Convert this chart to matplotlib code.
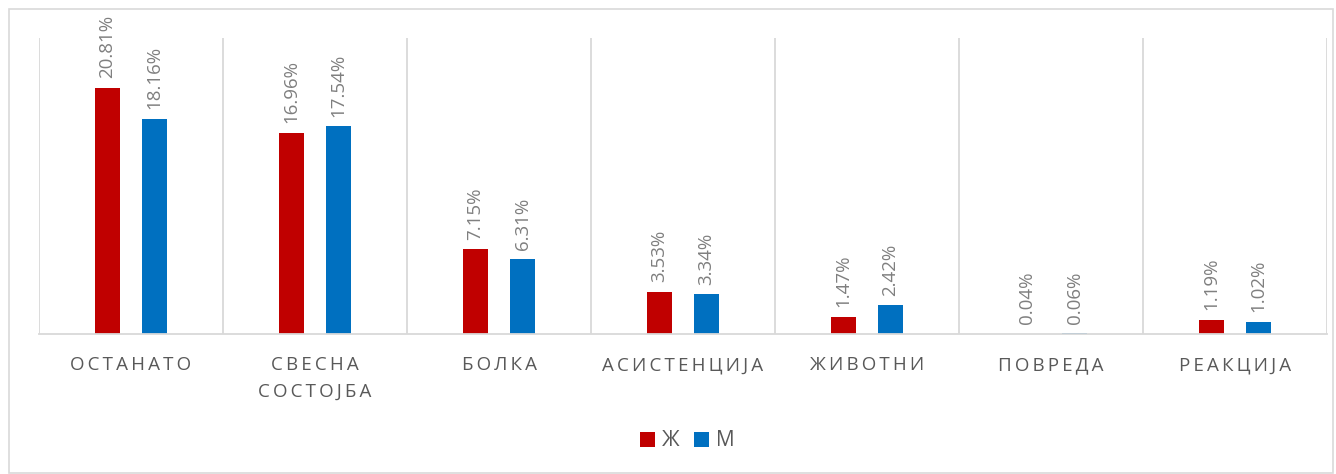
import numpy as np
import matplotlib.pyplot as plt
from matplotlib.patches import Rectangle

plt.rcParams['font.family'] = ['Open Sans', 'DejaVu Sans']

categories = ['ОСТАНАТО', 'СВЕСНА\nСОСТОЈБА', 'БОЛКА', 'АСИСТЕНЦИЈА', 'ЖИВОТНИ', 'ПОВРЕДА', 'РЕАКЦИЈА']
female = [20.81, 16.96, 7.15, 3.53, 1.47, 0.04, 1.19]
male = [18.16, 17.54, 6.31, 3.34, 2.42, 0.06, 1.02]
series_names = ['Ж', 'М']

red = '#C00000'
blue = '#0070C0'
grid = '#D9D9D9'
txt = '#595959'


def spaced(s):
    # wide letter spacing like the original
    return '\n'.join('\u2009'.join(list(line)) for line in s.split('\n'))


fig = plt.figure(figsize=(13.36, 4.74), dpi=100)
fig.patches.append(Rectangle((9 / 1336, 0.002), 1324 / 1336, 1 - 9 / 474 - 0.002,
                             transform=fig.transFigure, fill=False,
                             edgecolor=grid, linewidth=1.2))

ax = fig.add_axes([39 / 1336, 140 / 474, 1288 / 1336, 296 / 474])
x = np.arange(len(categories))
w = 0.136
off = 0.128
b1 = ax.bar(x - off, female, w, color=red, label=series_names[0])
b2 = ax.bar(x + off, male, w, color=blue, label=series_names[1])

for bars, vals in [(b1, female), (b2, male)]:
    for r, v in zip(bars, vals):
        ax.annotate(f'{v:.2f}%', (r.get_x() + r.get_width() / 2, v),
                    xytext=(0, 7), textcoords='offset points',
                    rotation=90, ha='center', va='bottom',
                    fontsize=13.5, color='#7F7F7F')

ax.set_xlim(-0.5, len(categories) - 0.5)
ax.set_ylim(0, 25)
for b in np.arange(-0.5, len(categories), 1):
    ax.axvline(b, color=grid, linewidth=1.3, zorder=0)

ax.set_xticks(x)
ax.set_xticklabels([spaced(c) for c in categories], fontsize=13.5, color=txt,
                   linespacing=1.6)
ax.tick_params(axis='x', length=0, pad=16)
ax.set_yticks([])
for s in ['top', 'right', 'left']:
    ax.spines[s].set_visible(False)
ax.spines['bottom'].set_color(grid)
ax.spines['bottom'].set_linewidth(1.3)

fig.legend(handles=[b1, b2], labels=series_names, loc='center',
           bbox_to_anchor=(687 / 1336, 1 - 441 / 474), ncol=2, frameon=False,
           fontsize=15, labelcolor=txt, handlelength=0.75, handleheight=0.75,
           handletextpad=0.3, columnspacing=0.7)

fig.savefig('out.png', dpi=100)
